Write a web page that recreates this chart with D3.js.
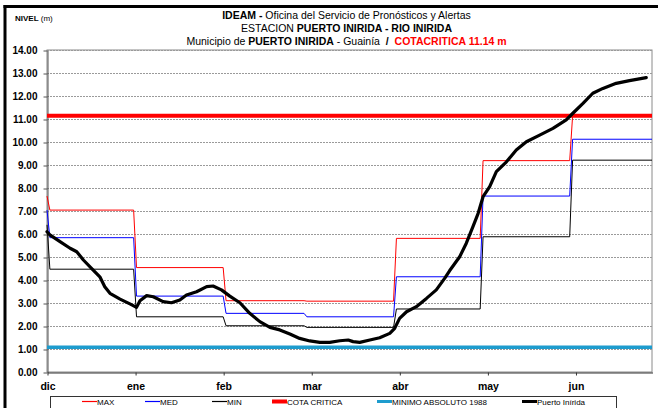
<!DOCTYPE html>
<html>
<head>
<meta charset="utf-8">
<script src="https://cdn.jsdelivr.net/npm/d3@7"></script>
<style>
  html, body { margin: 0; padding: 0; background: #fff; }
  svg { display: block; font-family: "Liberation Sans", Arial, sans-serif; }
  text { white-space: pre; }
</style>
</head>
<body>
<svg id="chart" width="658" height="408"></svg>
<script>
// Day index 0 = 1 December; month boundaries of the hydrological period
const monthStartDays = [0, 31, 62, 90, 121, 151, 182];
const lastDay = 209.5;

// Month tick labels and their positions (days)
const tickLabels = ["dic", "ene", "feb", "mar", "abr", "may", "jun"];
const tickDays = [0, 30.5, 61, 91.5, 122, 152.5, 183];

// Y axis ticks (m)
const yTicks = [0, 1, 2, 3, 4, 5, 6, 7, 8, 9, 10, 11, 12, 13, 14];

// Historical monthly levels (m): first-day value, then one value per month
const maxFirst = 7.65;
const maxMonthly = [7.04, 4.54, 3.10, 3.08, 5.81, 9.19, 11.12];
const medFirst = 7.04;
const medMonthly = [5.84, 3.30, 2.55, 2.40, 4.14, 7.65, 10.12];
const minFirst = 6.40;
const minMonthly = [4.47, 2.40, 2.01, 1.94, 2.74, 5.88, 9.21];

// Reference levels
const cotaCritica = 11.14;
const minimoAbsoluto1988 = 1.08;

// Observed levels at Puerto Inírida
const obsDays = [0, 1, 4.5, 8, 10.3, 12.6, 16, 18.3, 20, 21.8, 25.3, 28.7, 31, 32.2, 34.5, 36.8,
  40.2, 43.1, 46, 48.3, 51.8, 55.3, 57.5, 60.4, 63.3, 66.8, 70.2, 73.7, 77.2, 80.6, 84.1, 87.5,
  91, 94.5, 97.9, 101.4, 104.3, 106, 108.3, 111.8, 115.2, 118.7, 120.4, 122.1, 124.5, 127.9,
  131.4, 134.8, 137.7, 139.4, 142.9, 145.2, 147.5, 149.3, 151, 153.3, 155.6, 159.1, 162.5, 166,
  170.6, 175.2, 179.8, 182.1, 185.6, 189, 192.5, 197.1, 201.7, 207.5];
const obsLevels = [6.10, 5.96, 5.67, 5.38, 5.23, 4.87, 4.43, 4.14, 3.71, 3.42, 3.17, 2.96, 2.81,
  3.10, 3.32, 3.27, 3.06, 3.01, 3.13, 3.35, 3.49, 3.71, 3.74, 3.57, 3.30, 3.01, 2.55, 2.19, 1.94,
  1.83, 1.65, 1.46, 1.35, 1.29, 1.29, 1.36, 1.39, 1.32, 1.29, 1.39, 1.49, 1.68, 1.90, 2.33, 2.62,
  2.84, 3.20, 3.57, 4.07, 4.40, 5.01, 5.60, 6.32, 6.90, 7.62, 8.06, 8.71, 9.14, 9.65, 10.01,
  10.30, 10.59, 10.96, 11.25, 11.68, 12.12, 12.33, 12.55, 12.67, 12.80];

const svg = d3.select("#chart");
const plot = { left: 47, right: 652, top: 50, bottom: 372 };

const x = d3.scaleLinear().domain([0, lastDay]).range([plot.left, plot.right]);
const y = d3.scaleLinear().domain([0, 14]).range([plot.bottom, plot.top]);

// Outer frame (thick black on top and left)
svg.append("line").attr("x1", 3.5).attr("x2", 658).attr("y1", 6.5).attr("y2", 6.5)
  .attr("stroke", "#000").attr("stroke-width", 3);
svg.append("line").attr("x1", 5).attr("x2", 5).attr("y1", 5).attr("y2", 408)
  .attr("stroke", "#000").attr("stroke-width", 3);

// Plot area border
svg.append("rect")
  .attr("x", plot.left).attr("y", plot.top)
  .attr("width", plot.right - plot.left).attr("height", plot.bottom - plot.top)
  .attr("fill", "none").attr("stroke", "#8a8a8a").attr("stroke-width", 1);

// Horizontal dotted gridlines
svg.append("g").selectAll("line").data(yTicks.filter(d => d > 0)).join("line")
  .attr("x1", plot.left).attr("x2", plot.right)
  .attr("y1", d => Math.round(y(d)) + 0.5).attr("y2", d => Math.round(y(d)) + 0.5)
  .attr("stroke", "#9a9a9a").attr("stroke-width", 1).attr("stroke-dasharray", "2,1");

// Y axis
const yAxis = d3.axisLeft(y).tickValues(yTicks).tickFormat(d3.format(".2f"))
  .tickSizeInner(4).tickSizeOuter(0).tickPadding(6);
const gy = svg.append("g").attr("transform", `translate(${plot.left + 0.5},0.5)`).call(yAxis);
gy.select(".domain").attr("stroke", "#555");
gy.selectAll(".tick line").attr("stroke", "#555");
gy.selectAll(".tick text").attr("font-size", 10).attr("font-weight", "bold")
  .attr("fill", "#000").attr("font-family", "Liberation Sans, Arial, sans-serif");

// X axis
const xAxis = d3.axisBottom(x).tickValues(tickDays).tickFormat((d, i) => tickLabels[i])
  .tickSizeInner(3).tickSizeOuter(0).tickPadding(7);
const gx = svg.append("g").attr("transform", `translate(0.5,${plot.bottom + 0.5})`).call(xAxis);
gx.select(".domain").attr("stroke", "#333");
gx.selectAll(".tick line").attr("stroke", "#333");
gx.selectAll(".tick text").attr("font-size", 10.5).attr("font-weight", "bold")
  .attr("fill", "#000").attr("font-family", "Liberation Sans, Arial, sans-serif");

// Daily step series built from the monthly values
function stepPoints(first, monthly) {
  const pts = [[0, first]];
  monthly.forEach((v, i) => {
    const start = i === 0 ? 1 : monthStartDays[i];
    const end = i + 1 < monthStartDays.length ? monthStartDays[i + 1] - 1 : lastDay;
    pts.push([start, v], [end, v]);
  });
  return pts;
}

const line = d3.line().x(d => x(d[0])).y(d => y(d[1]));

const seriesStyles = [
  { pts: stepPoints(minFirst, minMonthly), color: "#000000", width: 1 },
  { pts: stepPoints(medFirst, medMonthly), color: "#0000ff", width: 1 },
  { pts: stepPoints(maxFirst, maxMonthly), color: "#ff0000", width: 1 }
];

// Reference horizontal lines
svg.append("path")
  .attr("d", line([[0, minimoAbsoluto1988], [lastDay, minimoAbsoluto1988]]))
  .attr("fill", "none").attr("stroke", "#1e9cce").attr("stroke-width", 3.5);

seriesStyles.forEach(s => {
  svg.append("path").attr("d", line(s.pts))
    .attr("fill", "none").attr("stroke", s.color).attr("stroke-width", s.width);
});

svg.append("path")
  .attr("d", line([[0, cotaCritica], [lastDay, cotaCritica]]))
  .attr("fill", "none").attr("stroke", "#ff0000").attr("stroke-width", 4);

// Observed series
svg.append("path")
  .attr("d", line(obsDays.map((d, i) => [d, obsLevels[i]])))
  .attr("fill", "none").attr("stroke", "#000").attr("stroke-width", 3.2)
  .attr("stroke-linejoin", "round").attr("stroke-linecap", "round");

// Titles
const titleX = 346.5;
const titleSize = 10.5;
const t1 = svg.append("text").attr("x", titleX).attr("y", 18.5).attr("text-anchor", "middle")
  .attr("font-size", titleSize);
t1.append("tspan").attr("font-weight", "bold").text("IDEAM - ");
t1.append("tspan").text("Oficina del Servicio de Pronósticos y Alertas");

const t2 = svg.append("text").attr("x", titleX).attr("y", 31.5).attr("text-anchor", "middle")
  .attr("font-size", titleSize);
t2.append("tspan").text("ESTACION ");
t2.append("tspan").attr("font-weight", "bold").text("PUERTO INIRIDA - RIO INIRIDA");

const t3 = svg.append("text").attr("x", titleX).attr("y", 44.5).attr("text-anchor", "middle")
  .attr("font-size", titleSize);
t3.append("tspan").text("Municipio de ");
t3.append("tspan").attr("font-weight", "bold").text("PUERTO INIRIDA");
t3.append("tspan").text(" - Guainía  ");
t3.append("tspan").attr("font-weight", "bold").text("/  ");
t3.append("tspan").attr("font-weight", "bold").attr("fill", "#ff0000").text("COTACRITICA 11.14 m");

const nivel = svg.append("text").attr("x", 15).attr("y", 21).attr("font-size", 8);
nivel.append("tspan").attr("font-weight", "bold").text("NIVEL");
nivel.append("tspan").text(" (m)");

// Legend
const legendItems = [
  { label: "MAX", color: "#ff0000", width: 1.2, x: 82 },
  { label: "MED", color: "#0000ff", width: 1.2, x: 145 },
  { label: "MIN", color: "#000000", width: 1.2, x: 212 },
  { label: "COTA CRITICA", color: "#ff0000", width: 4, x: 272 },
  { label: "MINIMO ABSOLUTO 1988", color: "#1e9cce", width: 3, x: 377 },
  { label: "Puerto Inírida", color: "#000000", width: 3, x: 522 }
];
svg.append("rect").attr("x", 50.5).attr("y", 396.5).attr("width", 566).attr("height", 20)
  .attr("fill", "#fff").attr("stroke", "#333").attr("stroke-width", 1);
const lg = svg.append("g").selectAll("g").data(legendItems).join("g")
  .attr("transform", d => `translate(${d.x},0)`);
lg.append("line").attr("x1", 0).attr("x2", 15).attr("y1", 401.5).attr("y2", 401.5)
  .attr("stroke", d => d.color).attr("stroke-width", d => d.width);
lg.append("text").attr("x", 15).attr("y", 404.5).attr("font-size", 8).text(d => d.label);
</script>
</body>
</html>
